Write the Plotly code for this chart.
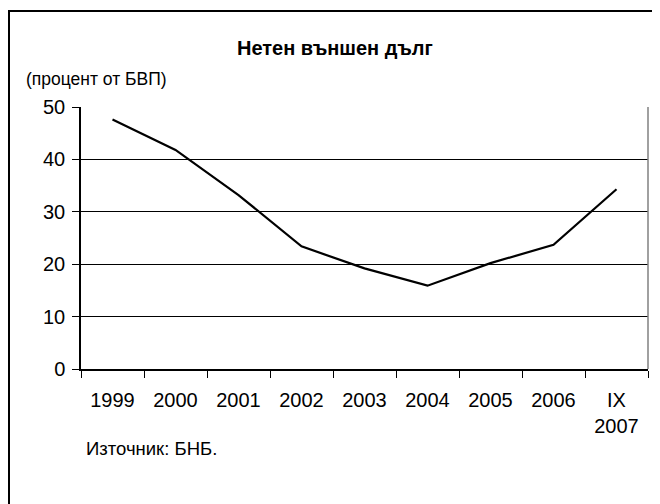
import plotly.graph_objects as go

categories = ["1999", "2000", "2001", "2002", "2003", "2004", "2005", "2006", "IX<br>2007"]
debt_pct_gdp = [47.6, 41.8, 33.2, 23.4, 19.2, 15.9, 20.2, 23.7, 34.3]
y_ticks = [0, 10, 20, 30, 40, 50]

FONT = "Liberation Sans, Arial, sans-serif"

# page body has an 8px margin; figure sized to fill the rest of the 660x504 window
OFF = 8
W, H = 652, 496
L, R, T, B = 73, 12, 99, 135
pw, ph = W - L - R, H - T - B


def px(xw):
    """window x -> paper x"""
    return (xw - OFF - L) / pw


def py(yw):
    """window y -> paper y"""
    return (H - B - (yw - OFF)) / ph


fig = go.Figure()
fig.add_trace(go.Scatter(
    x=categories, y=debt_pct_gdp, mode="lines",
    line=dict(color="black", width=2.2),
    showlegend=False, hoverinfo="skip",
))

fig.update_layout(
    width=W, height=H,
    margin=dict(l=L, r=R, t=T, b=B, autoexpand=False),
    paper_bgcolor="white", plot_bgcolor="white",
    font=dict(family=FONT, size=20, color="black"),
    xaxis=dict(
        type="category", tickson="boundaries",
        showline=True, linecolor="black", linewidth=1.5,
        ticks="outside", ticklen=7, tickcolor="black", tickwidth=1,
        showgrid=False, zeroline=False,
        tickfont=dict(size=20, family=FONT, color="black"),
        ticklabelstandoff=12,
        range=[-0.5, len(categories) - 0.5],
        fixedrange=True,
    ),
    yaxis=dict(
        range=[0, 50], tickvals=y_ticks,
        showline=True, linecolor="black", linewidth=1.5,
        ticks="outside", ticklen=7, tickcolor="black", tickwidth=1,
        showgrid=True, gridcolor="black", gridwidth=1,
        zeroline=False,
        tickfont=dict(size=20, family=FONT, color="black"),
        ticklabelstandoff=3,
        fixedrange=True,
    ),
    shapes=[
        # plot-area right border
        dict(type="line", xref="paper", yref="paper", x0=1, x1=1, y0=0, y1=1,
             line=dict(color="#808080", width=1.5)),
        # outer chart frame (cropped at right and bottom)
        dict(type="rect", xref="paper", yref="paper",
             x0=px(9), x1=px(720), y0=py(560), y1=py(11),
             line=dict(color="black", width=2), fillcolor="rgba(0,0,0,0)", layer="above"),
    ],
    annotations=[
        dict(text="<b>Нетен външен дълг</b>", xref="paper", yref="paper",
             x=px(335), y=py(48), xanchor="center", yanchor="middle",
             showarrow=False, font=dict(size=20, family=FONT, color="black")),
        dict(text="(процент от БВП)", xref="paper", yref="paper",
             x=px(24), y=py(79), xanchor="left", yanchor="middle",
             showarrow=False, font=dict(size=17.5, family=FONT, color="black")),
        dict(text="Източник: БНБ.", xref="paper", yref="paper",
             x=px(84), y=py(448), xanchor="left", yanchor="middle",
             showarrow=False, font=dict(size=18.5, family=FONT, color="black")),
    ],
)

fig.write_html("out.html")
